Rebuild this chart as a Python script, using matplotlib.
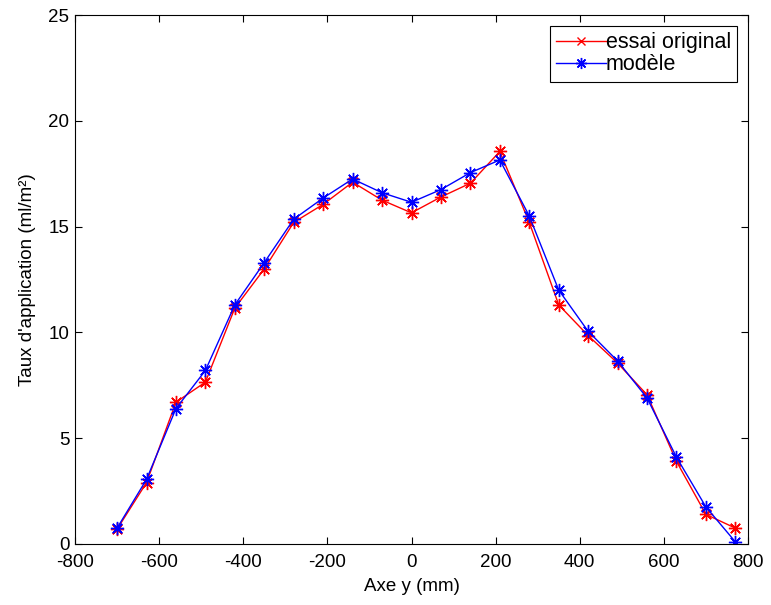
import numpy as np
import matplotlib.pyplot as plt
from matplotlib.lines import Line2D

plt.rcParams['font.family'] = ['Liberation Sans', 'DejaVu Sans']
plt.rcParams['axes.unicode_minus'] = False

# positions le long de l'axe y (mm)
y_pos = np.arange(-700, 771, 70)

# taux d'application mesures et modelises (ml/m2)
essai = [0.7, 2.9, 6.7, 7.65, 11.15, 13.0, 15.2, 16.05, 17.1, 16.25, 15.65, 16.4,
         17.05, 18.55, 15.2, 11.3, 9.85, 8.55, 7.05, 3.9, 1.4, 0.75]
modele = [0.75, 3.05, 6.4, 8.2, 11.3, 13.3, 15.35, 16.35, 17.25, 16.6, 16.15, 16.75,
          17.55, 18.15, 15.5, 12.0, 10.05, 8.65, 6.9, 4.1, 1.75, 0.1]

# asterisque a 8 branches (style matlab)
ast = (8, 2, 0)

fig = plt.figure(figsize=(7.71, 6.05), dpi=100)
ax = fig.add_axes([75 / 771, 61 / 605, 673 / 771, 529 / 605])

ax.plot(y_pos, essai, '-', marker=ast, color='red', lw=1, ms=9.5, mew=1)
ax.plot(y_pos, modele, '-', marker=ast, color='blue', lw=1, ms=9.5, mew=1)

ax.set_xlim(-800, 800)
ax.set_ylim(0, 25)
ax.set_xticks(np.arange(-800, 801, 200))
ax.set_yticks(np.arange(0, 26, 5))
ax.tick_params(direction='in', top=True, right=True, length=5, labelsize=13.5)
ax.tick_params(axis='x', pad=7.5)
ax.tick_params(axis='y', pad=4)
ax.set_xlabel('Axe y (mm)', fontsize=13.5, labelpad=5)
ax.set_ylabel("Taux d'application (ml/m²)", fontsize=13.5, labelpad=9)

handles = [Line2D([], [], color='red', lw=1, marker='x', ms=6),
           Line2D([], [], color='blue', lw=1, marker=ast, ms=8)]
leg = ax.legend(handles, ['essai original', 'modèle'], loc='upper right',
                fontsize=15.5, handletextpad=0, handlelength=2.3, borderpad=0.3,
                labelspacing=0.05, fancybox=False, framealpha=1, numpoints=1,
                borderaxespad=0.5)
leg.get_frame().set_edgecolor('black')
leg.get_frame().set_linewidth(0.8)

fig.savefig('out.png', dpi=100)
